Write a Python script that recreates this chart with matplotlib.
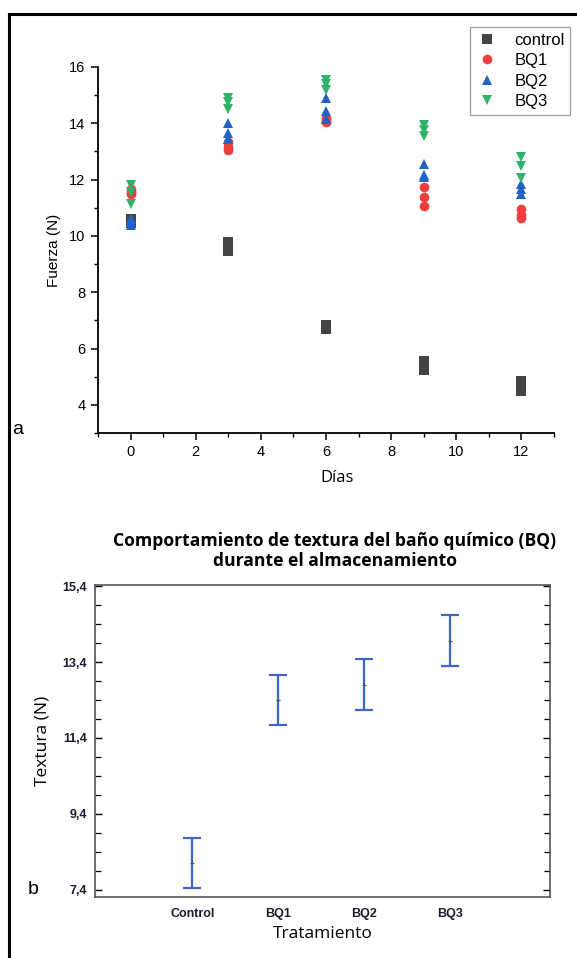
import matplotlib
matplotlib.use("Agg")
import matplotlib.pyplot as plt
from matplotlib.lines import Line2D
from matplotlib.ticker import MultipleLocator, FixedLocator, FuncFormatter

# ---------------- data: panel a ----------------
days = [0, 3, 6, 9, 12]
control = [[10.6, 10.5, 10.45], [9.8, 9.6, 9.45], [6.85, 6.75, 6.7], [5.55, 5.4, 5.25], [4.85, 4.65, 4.5]]
bq1 = [[11.65, 11.55, 11.5], [13.35, 13.15, 13.05], [14.2, 14.1, 14.05], [11.75, 11.4, 11.05], [10.95, 10.75, 10.65]]
bq2 = [[10.6, 10.5, 10.4], [14.0, 13.65, 13.45], [14.9, 14.45, 14.15], [12.55, 12.15, 12.1], [11.85, 11.65, 11.5]]
bq3 = [[11.8, 11.55, 11.15], [14.9, 14.75, 14.5], [15.55, 15.4, 15.2], [13.95, 13.75, 13.55], [12.8, 12.5, 12.05]]
series_names = ["control", "BQ1", "BQ2", "BQ3"]
x_ticks_a = [0, 2, 4, 6, 8, 10, 12]
y_ticks_a = [4, 6, 8, 10, 12, 14, 16]

# ---------------- data: panel b ----------------
treatments = ["Control", "BQ1", "BQ2", "BQ3"]
means_b = [8.11, 12.41, 12.80, 13.96]
halfwidth_b = [0.66, 0.66, 0.67, 0.67]
y_ticks_b = [7.4, 9.4, 11.4, 13.4, 15.4]

W, H = 577, 958
fig = plt.figure(figsize=(W / 100, H / 100), dpi=100)

def fx(px):
    return px / W

def fy(py):
    return 1 - py / H

# page frame lines (top and left)
fig.add_artist(Line2D([fx(9), fx(9)], [0, fy(14)], transform=fig.transFigure, color="black", lw=2.2))
fig.add_artist(Line2D([fx(9), 1], [fy(14), fy(14)], transform=fig.transFigure, color="black", lw=2.2))

# ---------------- panel a ----------------
ax1 = fig.add_axes([fx(98), fy(433), fx(554 - 98), (433 - 67) / H])
styles = [
    dict(marker="s", color="#444444", ms=6.5),
    dict(marker="o", color="#ec4040", ms=7.0),
    dict(marker="^", color="#2163c2", ms=7.5),
    dict(marker="v", color="#2fb36a", ms=7.5),
]
for name, vals, st in zip(series_names, [control, bq1, bq2, bq3], styles):
    xs = [d for d, reps in zip(days, vals) for _ in reps]
    ys = [v for reps in vals for v in reps]
    ax1.plot(xs, ys, linestyle="none", marker=st["marker"], color=st["color"],
             markersize=st["ms"], markeredgewidth=0, label=name)

ax1.set_xlim(-1, 13)
ax1.set_ylim(3, 16)
ax1.spines["top"].set_visible(False)
ax1.spines["right"].set_visible(False)
for s in ("left", "bottom"):
    ax1.spines[s].set_linewidth(1.3)
ax1.xaxis.set_major_locator(FixedLocator(x_ticks_a))
ax1.yaxis.set_major_locator(FixedLocator(y_ticks_a))
ax1.xaxis.set_minor_locator(MultipleLocator(1))
ax1.yaxis.set_minor_locator(MultipleLocator(1))
ax1.tick_params(which="major", direction="out", length=5, width=1.1, labelsize=10.5, pad=4)
ax1.tick_params(which="minor", direction="out", length=3, width=1.0)
for lab in ax1.get_xticklabels() + ax1.get_yticklabels():
    lab.set_fontfamily("Liberation Sans")
ax1.set_ylabel("Fuerza (N)", fontsize=11, fontfamily="Liberation Sans", labelpad=6)
ax1.set_xlabel("Días", fontsize=12, fontfamily="Open Sans", labelpad=3)
ax1.xaxis.set_label_coords(0.525, -0.1)

leg = fig.legend(loc="upper left", bbox_to_anchor=(fx(470), fy(27)), borderaxespad=0,
                 frameon=True, fancybox=False, edgecolor="#888888",
                 prop={"family": "Liberation Sans", "size": 12},
                 handlelength=1.3, handletextpad=1.0, labelspacing=0.33, borderpad=0.35)
leg.get_frame().set_linewidth(0.9)

fig.text(fx(12), fy(430), "a", fontsize=14, fontfamily="Liberation Sans", va="center", ha="left")

# ---------------- panel b ----------------
ax2 = fig.add_axes([fx(95), fy(897), fx(550 - 95), (897 - 585) / H])
xpos = list(range(len(treatments)))
ax2.errorbar(xpos, means_b, yerr=halfwidth_b, fmt="none", ecolor="#3d66c8",
             elinewidth=1.6, capsize=6.5, capthick=1.6)
ax2.plot(xpos, means_b, linestyle="none", marker="+", color="#555555", markersize=3, mew=0.8)
ax2.set_xlim(-1.13, 4.16)
ax2.set_ylim(7.21, 15.43)
for s in ax2.spines.values():
    s.set_linewidth(1.2)
    s.set_color("#555555")
ax2.set_xticks(xpos)
ax2.set_xticklabels(treatments)
ax2.yaxis.set_major_locator(FixedLocator(y_ticks_b))
ax2.yaxis.set_major_formatter(FuncFormatter(lambda v, p: f"{v:.1f}".replace(".", ",")))
ax2.yaxis.set_minor_locator(FixedLocator([7.4 + 0.5 * i for i in range(17)]))
ax2.tick_params(axis="y", which="major", direction="in", length=5, width=1.0,
                left=True, right=True, labelsize=9, pad=6)
ax2.tick_params(axis="y", which="minor", direction="in", length=4, width=0.9, left=True, right=True)
ax2.tick_params(axis="x", which="both", length=0, labelsize=9, pad=8)
for lab in ax2.get_xticklabels() + ax2.get_yticklabels():
    lab.set_fontfamily("Liberation Sans")
    lab.set_fontweight("bold")
    lab.set_color("#1c1c30")
ax2.set_ylabel("Textura (N)", fontsize=12.5, fontfamily="Open Sans", labelpad=8)
ax2.set_xlabel("Tratamiento", fontsize=12.5, fontfamily="Open Sans", labelpad=4)

fig.text(fx(335), fy(551), "Comportamiento de textura del baño químico (BQ)\ndurante el almacenamiento",
         ha="center", va="center", fontsize=12.6, fontweight="bold", fontfamily="Open Sans",
         linespacing=1.15)
fig.text(fx(28), fy(890), "b", fontsize=14, fontfamily="Liberation Sans", va="center", ha="left")

fig.savefig("out.png", dpi=100, facecolor="white")
